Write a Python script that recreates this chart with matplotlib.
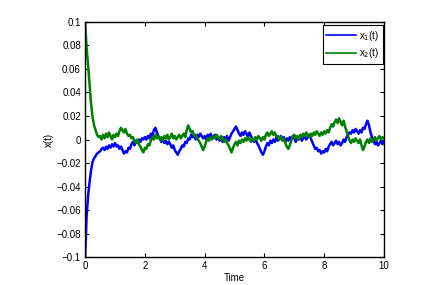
import numpy as np
import matplotlib.pyplot as plt

# time grid, step 0.05
t = np.round(np.arange(0, 10.001, 0.05), 2)

# x1(t), in units of 1e-3
x1_milli = [
    -100, -65, -48, -36, -26, -19, -16, -14, -12, -11, -10, -8, -7, -9, -6, -8, -5, -7, -4, -6,
    -3, -6, -5, -8, -6, -9, -12, -10, -11, -7, -8, -4, -2, -5, -1, -3, 0, -2, 1, 0,
    2, 0, 3, 1, 5, 3, 8, 10, 6, 3, 1, -2, 0, -3, -1, -4, -2, -4, -7, -5,
    -9, -11, -13, -10, -8, -5, -6, -2, -3, 1, 0, 4, 2, 3, 0, 4, 2, 5, 3, 1,
    3, 0, 4, 2, 5, 1, 3, 4, 0, 2, -1, 1, -2, 2, 0, 3, -1, 2, 5, 7,
    9, 11, 8, 5, 3, 6, 4, 7, 5, 2, 6, 3, 0, -2, 1, -3, -5, -8, -11, -13,
    -10, -6, -3, -5, -1, -3, 0, -2, 2, -1, 1, 3, 0, 2, -2, 1, -1, 2, 0, 3,
    1, -2, 2, 0, 3, -1, 1, 3, 0, 2, 4, 1, -2, -5, -8, -7, -10, -9, -12, -10,
    -11, -8, -10, -6, -4, -2, -5, -3, -1, -4, -2, -5, -3, 0, -2, 2, 4, 6, 5, 8,
    6, 9, 7, 5, 8, 6, 10, 9, 13, 16, 12, 6, 2, -1, -4, -2, -5, -3, -1, -4,
    -2,
]

# x2(t), in units of 1e-3
x2_milli = [
    100, 78, 63, 46, 30, 19, 12, 8, 4, 2, 3, 0, 4, 1, 5, 2, 6, 3, 0, 4,
    2, 5, 3, 7, 10, 8, 6, 9, 5, 3, 4, 1, 2, -1, -3, 0, -4, -6, -9, -11,
    -7, -8, -4, -5, -1, 2, 0, 4, 1, 3, 0, 2, -1, 3, 1, 4, 0, 2, 5, 1,
    3, 0, 2, 4, 1, 3, 5, 2, 8, 12, 9, 6, 7, 3, 4, 1, -1, -3, -6, -9,
    -6, -2, 1, -1, 2, 0, 3, 1, 4, 2, 0, 3, 1, -2, 0, -3, -5, -8, -11, -7,
    -4, -2, -5, -1, -3, 0, -2, 1, -1, 2, 0, -2, 1, -1, 2, 0, 3, 1, -1, 2,
    0, 4, 6, 3, 5, 7, 4, 6, 2, 3, 0, 2, -1, 1, -3, -6, -8, -5, -1, 2,
    4, 1, 3, 0, 4, 2, 5, 3, 6, 4, 2, 5, 3, 6, 4, 7, 5, 3, 6, 4,
    7, 5, 8, 6, 10, 13, 11, 15, 17, 14, 18, 15, 12, 16, 11, 7, 3, -1, -3, 0,
    -2, 1, -1, -3, 0, -5, -9, -6, -2, 0, -3, 1, -2, 0, 2, -1, 1, 3, 0, 2,
    1,
]

x1 = np.array(x1_milli) / 1000.0
x2 = np.array(x2_milli) / 1000.0

xticks = [0, 2, 4, 6, 8, 10]
yticks = [-0.1, -0.08, -0.06, -0.04, -0.02, 0, 0.02, 0.04, 0.06, 0.08, 0.1]
ytick_labels = ['\u22120.1', '\u22120.08', '\u22120.06', '\u22120.04', '\u22120.02', '0',
                '0.02', '0.04', '0.06', '0.08', '0.1']

plt.rcParams['font.family'] = ['Liberation Sans', 'DejaVu Sans']
plt.rcParams['font.size'] = 7

fig = plt.figure(figsize=(4.48, 2.85), dpi=100)
ax = fig.add_axes([0.190, 0.098, 0.667, 0.825])

ax.plot(t, x1, color=(0, 0, 1), lw=1.8, label='x$_1$(t)')
ax.plot(t, x2, color=(0, 0.5, 0), lw=1.8, label='x$_2$(t)')

ax.set_xlim(0, 10)
ax.set_ylim(-0.1, 0.1)
ax.set_xticks(xticks)
ax.set_yticks(yticks)
ax.set_yticklabels(ytick_labels)
ax.tick_params(direction='in', top=True, right=True, length=3, width=0.8, pad=3)
for s in ax.spines.values():
    s.set_linewidth(1.0)

ax.set_xlabel('Time', labelpad=1)
ax.set_ylabel('x(t)', labelpad=2)

leg = ax.legend(loc='upper right', bbox_to_anchor=(0.996, 0.985), borderaxespad=0,
                fancybox=False, framealpha=1, edgecolor='black', handlelength=3.1,
                borderpad=0.35, labelspacing=0.35, handletextpad=0.3)
leg.get_frame().set_linewidth(0.8)
for h in leg.get_lines():
    h.set_linewidth(1.2)

fig.savefig('out.png', dpi=100)
